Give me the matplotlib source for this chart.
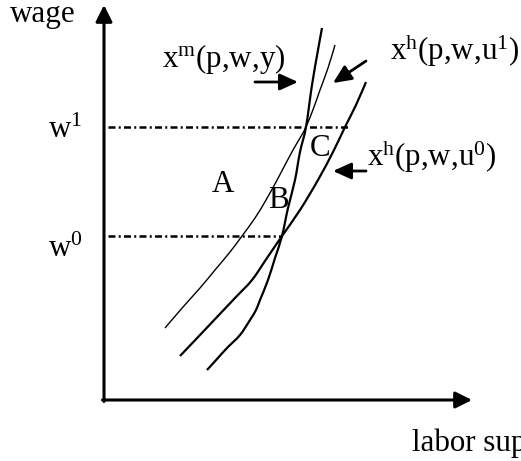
import numpy as np
import matplotlib
matplotlib.use("Agg")
import matplotlib.pyplot as plt
from matplotlib.path import Path
from matplotlib.patches import PathPatch

plt.rcParams['font.family'] = ['Liberation Serif', 'DejaVu Serif']
plt.rcParams['mathtext.fontset'] = 'custom'
plt.rcParams['mathtext.rm'] = 'Liberation Serif'
plt.rcParams['mathtext.it'] = 'Liberation Serif:italic'

# labor supply curves (x = labor supply, y = wage), origin at axis corner
xm_x = [103, 113, 123, 136, 146, 152, 156, 164, 171, 178, 184, 191, 196, 202, 208, 214, 218]
xm_y = [30, 41, 52, 65, 80, 90, 100, 120, 142, 164, 192, 220, 248, 273, 315, 350, 372]

u1_x = [61, 79, 96, 111, 126, 138, 151, 162, 172, 181, 189, 196, 202, 210, 216, 224, 231]
u1_y = [72, 93, 112, 130, 148, 164, 182, 200, 218, 235, 250, 262, 273, 293, 310, 332, 355]

u0_x = [76, 96, 113, 131, 148, 163, 178, 196, 214, 229, 241, 252, 262]
u0_y = [44, 65, 83, 102, 120, 142, 164, 190, 220, 248, 273, 295, 318]

# wage levels and where the dashed guides stop
w_levels = [273, 164]
w_ends = [244, 178]
w_names = [r'w$^{1}$', r'w$^{0}$']

fs = 22.3


def smooth_curve(ax, xs, ys, lw):
    # draw a smooth line through the points (Catmull-Rom as cubic Bezier segments)
    p = np.column_stack([xs, ys]).astype(float)
    verts = [p[0]]
    codes = [Path.MOVETO]
    for i in range(len(p) - 1):
        p0 = p[i - 1] if i > 0 else p[i]
        p3 = p[i + 2] if i + 2 < len(p) else p[i + 1]
        c1 = p[i] + (p[i + 1] - p0) / 6.0
        c2 = p[i + 1] - (p3 - p[i]) / 6.0
        verts += [c1, c2, p[i + 1]]
        codes += [Path.CURVE4] * 3
    ax.add_patch(PathPatch(Path(verts, codes), fill=False, lw=lw, edgecolor='black',
                           capstyle='butt', joinstyle='round'))


fig = plt.figure(figsize=(5.21, 4.61), dpi=100)
ax = fig.add_axes([0, 0, 1, 1])
ax.set_xlim(-104, 417)
ax.set_ylim(-61, 400)
ax.axis('off')

# axes with arrow heads
ax_arrow = dict(arrowstyle='-|>,head_length=0.5,head_width=0.25', mutation_scale=20,
                lw=2.2, color='black', shrinkA=0, shrinkB=0)
ax.annotate('', xy=(0, 395), xytext=(0, -1.5), arrowprops=ax_arrow)
ax.annotate('', xy=(368, 0), xytext=(-1.5, 0), arrowprops=ax_arrow)

# dash-dot wage lines
for w, xe in zip(w_levels, w_ends):
    ax.plot([4, xe], [w, w], color='black', lw=1.8, linestyle=(0, (2.8, 1.3, 0.8, 1.3)))

smooth_curve(ax, xm_x, xm_y, 1.6)
smooth_curve(ax, u1_x, u1_y, 1.0)
smooth_curve(ax, u0_x, u0_y, 1.6)

# pointer arrows
ptr = dict(arrowstyle='-|>,head_length=0.55,head_width=0.25', mutation_scale=20,
           lw=2.0, color='black', shrinkA=0, shrinkB=0)
ax.annotate('', xy=(194, 318), xytext=(151, 318), arrowprops=ptr)
ax.annotate('', xy=(229, 317), xytext=(262, 339), arrowprops=ptr)
ax.annotate('', xy=(229, 229), xytext=(262, 229), arrowprops=ptr)

# labels
ax.text(-94, 378, 'wage', fontsize=fs, ha='left', va='baseline')
for w, name, yb in zip(w_levels, w_names, [262, 143]):
    ax.text(-56, yb, name, fontsize=fs, ha='left', va='baseline')
ax.text(58, 333, r'x$^{\mathrm{m}}$(p,w,y)', fontsize=fs, ha='left', va='baseline')
ax.text(286, 340, r'x$^{\mathrm{h}}$(p,w,u$^{1}$)', fontsize=fs, ha='left', va='baseline')
ax.text(263, 234, r'x$^{\mathrm{h}}$(p,w,u$^{0}$)', fontsize=fs, ha='left', va='baseline')
ax.text(119, 216, 'A', fontsize=fs, ha='center', va='center')
ax.text(174, 200, 'B', fontsize=fs, ha='center', va='center')
ax.text(216, 251, 'C', fontsize=fs, ha='center', va='center')
ax.text(308, -51, 'labor supply', fontsize=fs, ha='left', va='baseline')

fig.savefig('out.png', dpi=100)
